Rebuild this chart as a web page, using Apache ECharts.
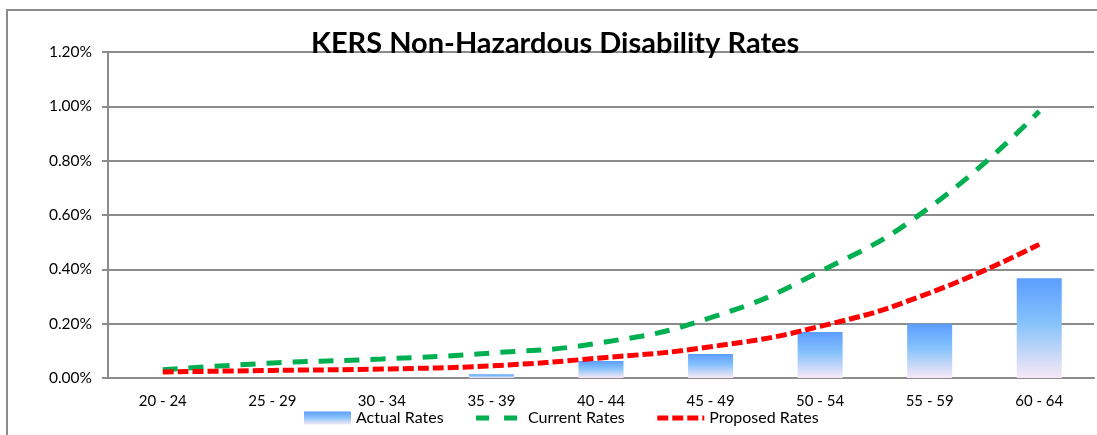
<!DOCTYPE html>
<html>
<head>
<meta charset="utf-8">
<script src="https://cdn.jsdelivr.net/npm/echarts@6/dist/echarts.min.js"></script>
<style>
  html, body { margin: 0; padding: 0; background: #fff; }
  #main { width: 1097px; height: 435px; }
</style>
</head>
<body>
<div id="main"></div>
<script>
// age bands and rates (in percent)
var ageBands = ['20 - 24', '25 - 29', '30 - 34', '35 - 39', '40 - 44', '45 - 49', '50 - 54', '55 - 59', '60 - 64'];
var actualRates = [0, 0, 0, 0.014, 0.063, 0.088, 0.169, 0.200, 0.367];
var currentRates = [0.030, 0.055, 0.070, 0.092, 0.130, 0.222, 0.392, 0.628, 0.982];
var proposedRates = [0.022, 0.028, 0.033, 0.045, 0.074, 0.115, 0.190, 0.313, 0.492];
var yTicks = [0, 0.2, 0.4, 0.6, 0.8, 1.0, 1.2];

var font = 'Lato, "Open Sans", sans-serif';
var gray = '#8c8c8c';

var myChart = echarts.init(document.getElementById('main'));
myChart.setOption({
    animation: false,
    backgroundColor: '#fff',
    textStyle: { fontFamily: font },
    title: {
        text: 'KERS Non-Hazardous Disability Rates',
        left: 306,
        top: 24,
        textStyle: { fontFamily: font, fontWeight: 'bold', fontSize: 29, color: '#000' }
    },
    graphic: [{
        // outer chart frame (only top and left show in the picture)
        type: 'rect',
        shape: { x: 7, y: 10, width: 1200, height: 600 },
        style: { fill: 'none', stroke: gray, lineWidth: 2 },
        silent: true
    }],
    legend: {
        top: 405,
        left: 299,
        itemWidth: 47,
        itemHeight: 13,
        itemGap: 30,
        textStyle: { fontFamily: font, fontSize: 16, color: '#000' },
        data: [
            { name: 'Actual Rates', icon: 'rect' },
            { name: 'Current Rates', itemStyle: { opacity: 0 }, lineStyle: { width: 5, type: [13, 15] } },
            { name: 'Proposed Rates', itemStyle: { opacity: 0 }, lineStyle: { width: 5, type: [11, 4] } }
        ]
    },
    grid: { left: 108, right: 3, top: 52, bottom: 57 },
    xAxis: {
        type: 'category',
        data: ageBands,
        axisLine: { lineStyle: { color: gray, width: 2 } },
        axisTick: { length: 6, lineStyle: { color: gray, width: 2 } },
        axisLabel: { color: '#000', fontSize: 15, margin: 16, fontFamily: font }
    },
    yAxis: {
        type: 'value',
        min: yTicks[0],
        max: yTicks[yTicks.length - 1],
        interval: 0.2,
        axisLine: { show: true, lineStyle: { color: gray, width: 2 } },
        axisTick: { show: true, length: 6, lineStyle: { color: gray, width: 2 } },
        splitLine: { lineStyle: { color: gray, width: 2 } },
        axisLabel: {
            color: '#000', fontSize: 15.5, margin: 16, fontFamily: font,
            formatter: function (v) { return v.toFixed(2) + '%'; }
        }
    },
    series: [
        {
            name: 'Actual Rates',
            type: 'bar',
            data: actualRates,
            barWidth: 45,
            itemStyle: {
                color: {
                    type: 'linear', x: 0, y: 0, x2: 0, y2: 1,
                    colorStops: [
                        { offset: 0, color: '#5c9dff' },
                        { offset: 0.45, color: '#86c2fb' },
                        { offset: 1, color: '#f8e8f6' }
                    ]
                }
            }
        },
        {
            name: 'Current Rates',
            type: 'line',
            data: currentRates,
            smooth: true,
            symbol: 'none',
            z: 3,
            itemStyle: { color: '#00b050' },
            lineStyle: { color: '#00b050', width: 5, type: [15, 11] }
        },
        {
            name: 'Proposed Rates',
            type: 'line',
            data: proposedRates,
            smooth: true,
            symbol: 'none',
            z: 4,
            itemStyle: { color: '#ff0000' },
            lineStyle: { color: '#ff0000', width: 5, type: [11, 4] }
        }
    ]
});
</script>
</body>
</html>
